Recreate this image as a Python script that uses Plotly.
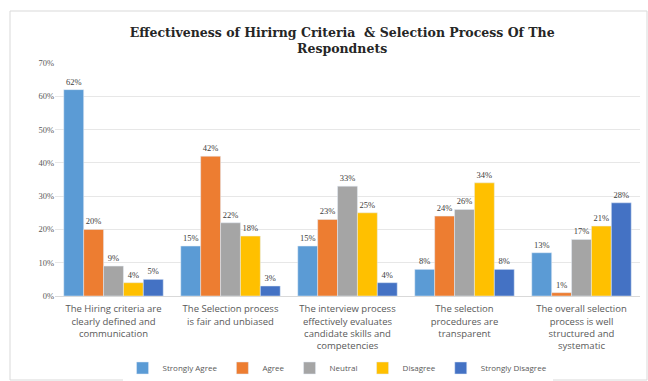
import plotly.graph_objects as go

categories = [
    "The Hiring criteria are<br>clearly defined and<br>communication",
    "The Selection process<br>is fair and unbiased",
    "The interview process<br>effectively evaluates<br>candidate skills and<br>competencies",
    "The selection<br>procedures are<br>transparent",
    "The overall selection<br>process is well<br>structured and<br>systematic",
]
series_names = ["Strongly Agree", "Agree", "Neutral", "Disagree", "Strongly Disagree"]
strongly_agree = [62, 15, 15, 8, 13]
agree = [20, 42, 23, 24, 1]
neutral = [9, 22, 33, 26, 17]
disagree = [4, 18, 25, 34, 21]
strongly_disagree = [5, 3, 4, 8, 28]
series_values = [strongly_agree, agree, neutral, disagree, strongly_disagree]
colors = ["#5B9BD5", "#ED7D31", "#A5A5A5", "#FFC000", "#4472C4"]
y_ticks = [0, 10, 20, 30, 40, 50, 60, 70]

fig = go.Figure()
for name, vals, col in zip(series_names, series_values, colors):
    fig.add_trace(go.Bar(
        x=categories, y=vals, name=name, marker_color=col,
        text=[f"{v}%" for v in vals], textposition="outside",
        textfont=dict(size=8.5, color="#404040", family="Liberation Serif"),
        cliponaxis=False,
    ))

fig.update_layout(
    width=648, height=381,
    margin=dict(l=55, r=8, t=63, b=85, autoexpand=False),
    paper_bgcolor="white", plot_bgcolor="white",
    barmode="group", bargap=0.15, bargroupgap=0,
    font=dict(family="Open Sans", size=9, color="#595959"),
    title=dict(
        text="<b>Effectiveness of Hirirng Criteria  & Selection Process Of The<br>Respondnets</b>",
        x=0.528, xanchor="center", y=0.903, yanchor="middle",
        font=dict(family="DejaVu Serif", size=12.5, color="#262626"),
    ),
    xaxis=dict(showgrid=False, tickfont=dict(size=9.5, color="#595959", family="Open Sans"),
               showline=True, linecolor="#D9D9D9", ticks="", ticklabelstandoff=4,
               automargin=False),
    yaxis=dict(range=[0, 70], tickvals=y_ticks, ticktext=[f"{t}%" for t in y_ticks],
               gridcolor="#E7E7E7", zeroline=False, automargin=False,
               tickfont=dict(size=8.5, color="#595959", family="Liberation Serif")),
    legend=dict(orientation="h", x=0.483, xanchor="center", y=-0.309, yanchor="middle",
                font=dict(size=8, color="#595959"), itemwidth=30, tracegroupgap=0),
    shapes=[dict(type="rect", xref="paper", yref="paper",
                 x0=(10 - 55) / 585, x1=(647 - 55) / 585,
                 y0=(296 - 380) / 233, y1=(296 - 11) / 233,
                 line=dict(color="#D9D9D9", width=1))],
)

fig.write_html("out.html")
